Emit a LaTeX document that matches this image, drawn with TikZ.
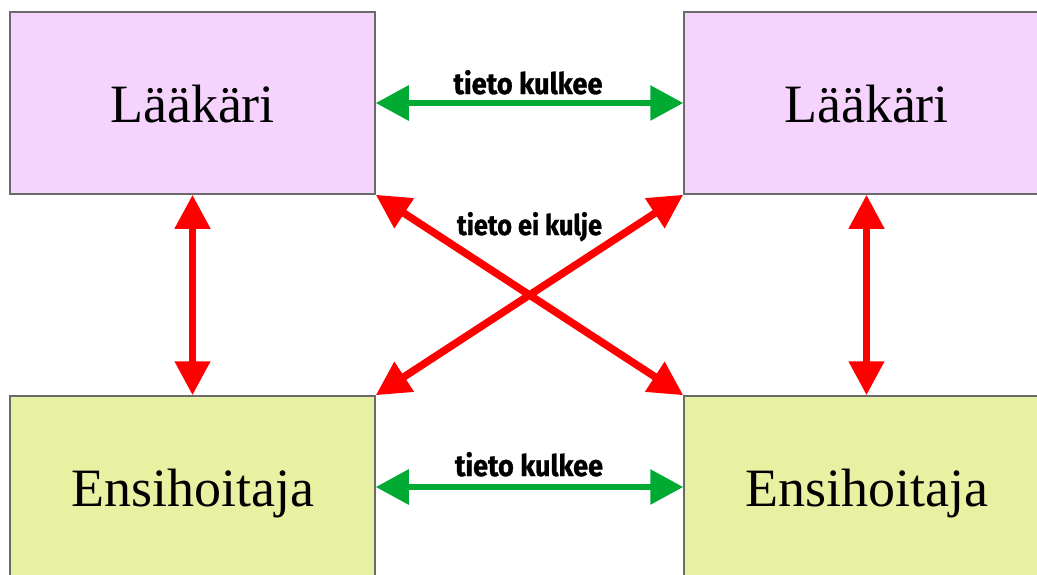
\documentclass[tikz,border=0pt]{standalone}
\usepackage{fontspec}
\usepackage{graphicx}
\setmainfont{Liberation Serif}
\newfontfamily\labfont{Fira Sans}[BoldFeatures={FakeBold=1.2}]
\usetikzlibrary{arrows.meta}
\definecolor{boxpink}{HTML}{F5D3FD}
\definecolor{boxgreen}{HTML}{E8F0A2}
\definecolor{boxline}{HTML}{6A6A6A}
\definecolor{flowgreen}{HTML}{00AA33}
\definecolor{noflowred}{HTML}{FF0000}
\tikzset{
  rolebox/.style={draw=boxline, line width=1.5pt, minimum width=365pt, minimum height=182pt,
    inner sep=0pt, text height=38pt, text depth=0pt,
    font=\fontsize{54}{60}\selectfont},
  doctor/.style={rolebox, fill=boxpink},
  medic/.style={rolebox, fill=boxgreen},
  okarrow/.style={draw=flowgreen, line width=6pt, {Triangle[length=33pt,width=34pt]}-{Triangle[length=33pt,width=34pt]}},
  noarrow/.style={draw=noflowred, line width=7.5pt, {Triangle[length=34pt,width=34pt]}-{Triangle[length=34pt,width=34pt]}},
  flowlabel/.style={anchor=base, inner sep=0pt}
}
\begin{document}
\begin{tikzpicture}[x=1pt,y=-1pt]
\useasboundingbox (0,0) rectangle (1037,574);
\clip (0,0) rectangle (1037,574);
\node[doctor] (tl) at (192.5,103) {Lääkäri};
\node[doctor] (tr) at (866.5,103) {Lääkäri};
\node[medic] (bl) at (192.5,487) {Ensihoitaja};
\node[medic] (br) at (866.5,487) {Ensihoitaja};
\draw[okarrow] (tl.east) -- (tr.west);
\draw[okarrow] (bl.east) -- (br.west);
\draw[noarrow] (tl.south) -- (bl.north);
\draw[noarrow] (tr.south) -- (br.north);
\draw[noarrow] (tl.south east) -- (br.north west);
\draw[noarrow] (tr.south west) -- (bl.north east);
\node[flowlabel] (lab1) at (528,94) {\resizebox{149pt}{24pt}{\labfont\bfseries tieto kulkee}};
\node[flowlabel] (lab2) at (529.5,235) {\resizebox{145pt}{23pt}{\labfont\bfseries tieto ei kulje}};
\node[flowlabel] (lab3) at (529,476) {\resizebox{148pt}{24pt}{\labfont\bfseries tieto kulkee}};
\end{tikzpicture}
\end{document}
